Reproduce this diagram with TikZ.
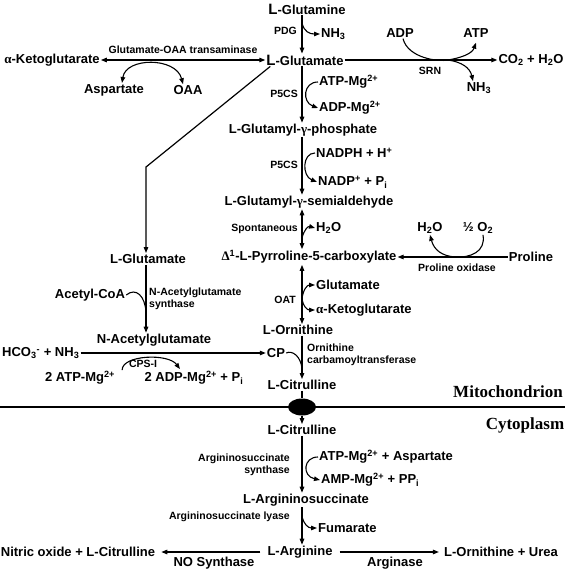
\documentclass[tikz,border=0pt]{standalone}
\usepackage{fontspec}
\setmainfont{Liberation Sans}
\newfontfamily\serifface{Liberation Serif}
\usetikzlibrary{arrows.meta,shapes.geometric}

\tikzset{
  met/.style={font=\bfseries\fontsize{13}{15}\selectfont, inner sep=1pt},
  side/.style={met, anchor=west},
  enz/.style={font=\bfseries\fontsize{10.5}{12.5}\selectfont, inner sep=1pt},
  rxn/.style={line width=1.2pt, ->},
  both/.style={line width=1.2pt, <->},
  hook/.style={line width=1.1pt},
  room/.style={font=\serifface\bfseries\fontsize{17}{19}\selectfont, inner sep=0pt}
}
\newcommand{\bigL}{{\fontsize{15}{15}\selectfont L}}
\newcommand{\gr}[1]{{\serifface #1}}

\begin{document}
\begin{tikzpicture}[x=1pt, y=-1pt, >={Triangle[length=6pt,width=4.5pt]}]
  \useasboundingbox (0,0) rectangle (565,570);
  \coordinate (col) at (302,0);

  % main column
  \node[met] (gln) at (307,9) {\bigL-Glutamine};
  \node[met] (glu) at (305,60) {\bigL-Glutamate};
  \node[met] (gp) at (303,130) {L-Glutamyl-\gr{γ}-phosphate};
  \node[met] (gsa) at (309,202) {L-Glutamyl-\gr{γ}-semialdehyde};
  \node[met] (p5c) at (309,257) {\gr{Δ}\textsuperscript{1}-L-Pyrroline-5-carboxylate};
  \node[met] (orn) at (298,330) {L-Ornithine};
  \node[met] (cit) at (302,385) {L-Citrulline};
  \node[met] (cit2) at (302,430) {L-Citrulline};
  \node[met] (asa) at (306,500) {L-Argininosuccinate};
  \node[met] (arg) at (300,552) {L-Arginine};

  % glutaminase
  \node[enz, anchor=east] (pdg) at (298,31) {PDG};
  \node[side] (nh3a) at (320,34) {NH\textsubscript{3}};
  \draw[rxn] (gln.south -| col) -- (glu.north -| col);
  \coordinate (pdgx) at (302,23);
  \draw[hook, ->] (pdgx) .. controls (304,32) and (310,34) .. (nh3a.west);

  % transaminase
  \node[met] (akg) at (52,60) {\gr{α}-Ketoglutarate};
  \node[met] (asp) at (114,90) {Aspartate};
  \node[met] (oaa) at (188,90) {OAA};
  \node[enz] (got) at (183,50) {Glutamate-OAA transaminase};
  \draw[both] (akg) -- (glu);
  \draw[hook, <->] ([xshift=8pt]asp.north) .. controls (126,57) and (176,57) .. ([xshift=-5pt]oaa.north);

  % SRN
  \node[met] (adp) at (400,33) {ADP};
  \node[met] (atp) at (476,33) {ATP};
  \node[met] (co2) at (531,60) {CO\textsubscript{2} + H\textsubscript{2}O};
  \node[met] (nh3b) at (479,88) {NH\textsubscript{3}};
  \node[enz] (srn) at (430,71) {SRN};
  \draw[rxn] (glu.east) -- (co2.west);
  \coordinate (srnx) at (448,60);
  \draw[hook, ->] ([xshift=3pt]adp.south) .. controls (408,58) and (438,62) .. (srnx)
    .. controls (460,58) and (472,54) .. ([yshift=-4pt]atp.south);
  \draw[hook, ->] (srnx) .. controls (462,62) and (470,68) .. ([xshift=-6pt]nh3b.north);

  % P5CS, first step
  \node[enz, anchor=east] (p5cs1) at (299,94) {P5CS};
  \node[side] (atpmg) at (318,82) {ATP-Mg\textsuperscript{2+}};
  \node[side] (adpmg) at (318,108) {ADP-Mg\textsuperscript{2+}};
  \draw[rxn] (glu.south -| col) -- (gp.north -| col);
  \draw[hook, ->] (atpmg.west) .. controls (303,82) and (302,102) .. (adpmg.west);

  % P5CS, second step
  \node[enz, anchor=east] (p5cs2) at (299,165) {P5CS};
  \node[side] (nadph) at (315,153) {NADPH + H\textsuperscript{+}};
  \node[side] (nadp) at (317,182) {NADP\textsuperscript{+} + P\textsubscript{i}};
  \draw[rxn] (gp.south -| col) -- (gsa.north -| col);
  \draw[hook, ->] (nadph.west) .. controls (302,153) and (302,176) .. (nadp.west);

  % spontaneous
  \node[enz, anchor=east] (spon) at (299,229) {Spontaneous};
  \node[side] (h2oa) at (315,228) {H\textsubscript{2}O};
  \draw[both] (gsa.south -| col) -- (p5c.north -| col);
  \coordinate (sponx) at (302,238);
  \draw[hook, ->] (sponx) .. controls (304,230) and (308,226) .. (h2oa.west);

  % proline oxidase
  \node[met] (pro) at (531,257) {Proline};
  \node[met] (h2ob) at (430,228) {H\textsubscript{2}O};
  \node[met] (o2) at (478,228) {½ O\textsubscript{2}};
  \node[enz] (prox) at (457,268) {Proline oxidase};
  \draw[rxn] (pro.west) -- (p5c.east);
  \coordinate (oxx) at (455,257);
  \draw[hook, ->] ([xshift=5pt]o2.south) .. controls (486,252) and (470,258) .. (oxx)
    .. controls (442,256) and (434,250) .. (h2ob.south);

  % OAT
  \node[enz, anchor=east] (oat) at (297,300) {OAT};
  \node[side] (glut) at (315,285) {Glutamate};
  \node[side] (akg2) at (315,310) {\gr{α}-Ketoglutarate};
  \draw[both] (p5c.south -| col) -- (orn.north -| col);
  \coordinate (oatx) at (302,299);
  \draw[hook, ->] (oatx) .. controls (303,290) and (307,285) .. (glut.west);
  \draw[hook, ->] (oatx) .. controls (303,306) and (307,310) .. (akg2.west);

  % N-acetylglutamate branch
  \node[met] (glul) at (148,259) {L-Glutamate};
  \coordinate (bend) at (146,167);
  \draw[rxn] ([xshift=5pt]glu.south west) -- (bend) -- (glul.north -| bend);
  \node[met] (acoa) at (90,295) {Acetyl-CoA};
  \node[enz, anchor=west, align=left] (nags) at (148,299) {N-Acetylglutamate\\synthase};
  \node[met] (nag) at (154,340) {N-Acetylglutamate};
  \draw[rxn] (glul.south -| bend) -- (nag.north -| bend);
  \coordinate (nagx) at (146,312);
  \draw[hook] (acoa.east) .. controls (136,287) and (145,296) .. (nagx);

  % carbamoyl phosphate
  \node[met, anchor=west] (hco3) at (1,353) {HCO\textsubscript{3}\textsuperscript{-} + NH\textsubscript{3}};
  \node[met] (cp) at (276,353) {CP};
  \draw[rxn] (hco3) -- (cp);
  \node[enz] (cps) at (143,364) {CPS-I};
  \node[met] (atp2) at (80,378) {2 ATP-Mg\textsuperscript{2+}};
  \node[met] (adp2) at (194,378) {2 ADP-Mg\textsuperscript{2+} + P\textsubscript{i}};
  \draw[hook, ->] ([xshift=6pt]atp2.north east) .. controls (122,355) and (168,353) .. ([xshift=-14pt, yshift=1pt]adp2.north);

  % ornithine carbamoyltransferase
  \node[enz, anchor=west, align=left] (otc) at (306,355) {Ornithine\\carbamoyltransferase};
  \draw[rxn] (orn.south -| col) -- (cit.north -| col);
  \coordinate (otcx) at (302,369);
  \draw[hook] (cp.east) .. controls (292,350) and (301,356) .. (otcx);

  % membrane
  \coordinate (ml) at (0,407);
  \coordinate (mr) at (565,407);
  \draw[line width=2.5pt] (ml) -- (mr);
  \node[ellipse, fill=black, minimum width=28pt, minimum height=17pt, inner sep=0pt] (pore) at (302,407) {};
  \node[room, anchor=east] (mito) at (563,392) {Mitochondrion};
  \node[room] (cyto) at (525,425) {Cytoplasm};
  \draw[hook] (cit.south -| col) -- (pore);
  \draw[rxn] (pore) -- (cit2.north -| col);

  % cytoplasm
  \node[enz, anchor=east, align=right] (ass) at (291,465) {Argininosuccinate\\synthase};
  \node[side] (atpasp) at (318,457) {ATP-Mg\textsuperscript{2+} + Aspartate};
  \node[side] (amp) at (320,480) {AMP-Mg\textsuperscript{2+} + PP\textsubscript{i}};
  \draw[rxn] (cit2.south -| col) -- (asa.north -| col);
  \draw[hook, ->] (atpasp.west) .. controls (303,457) and (302,476) .. (amp.west);

  \node[enz, anchor=east] (asl) at (291,517) {Argininosuccinate lyase};
  \node[side] (fum) at (317,528) {Fumarate};
  \draw[rxn] (asa.south -| col) -- (arg.north -| col);
  \coordinate (aslx) at (302,517);
  \draw[hook, ->] (aslx) .. controls (304,524) and (308,528) .. (fum.west);

  % arginine
  \node[met] (no) at (78,552) {Nitric oxide + L-Citrulline};
  \node[met] (urea) at (501,552) {L-Ornithine + Urea};
  \node[met] (nos) at (214,563) {NO Synthase};
  \node[met] (argase) at (395,563) {Arginase};
  \draw[rxn, shorten <=6pt, shorten >=5pt] (arg) -- (no);
  \draw[rxn, shorten <=6pt, shorten >=4pt] (arg) -- (urea);
\end{tikzpicture}
\end{document}
